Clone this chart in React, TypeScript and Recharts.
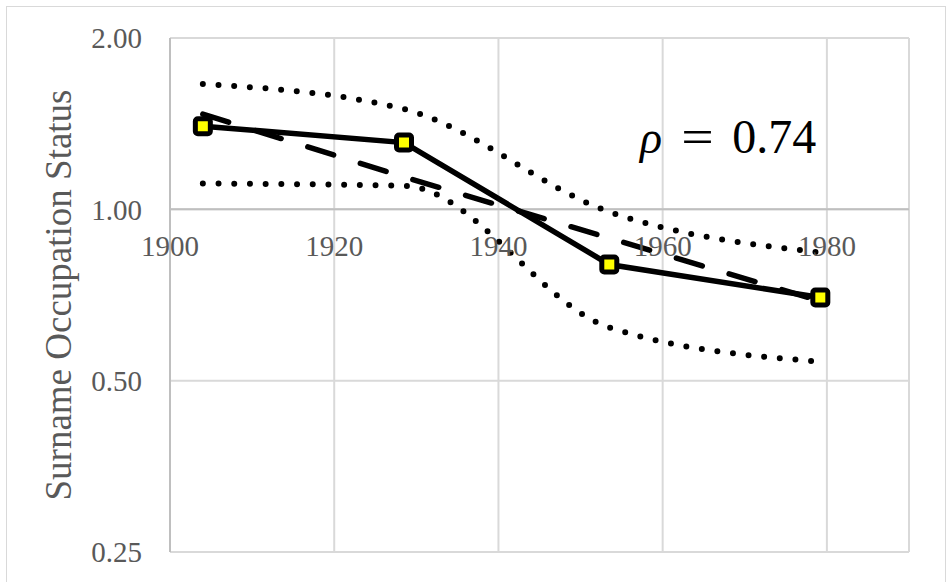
import React from 'react'
import {
  LineChart, Line, XAxis, YAxis, CartesianGrid,
  ReferenceLine, ReferenceDot,
} from 'recharts'

// generations (birth cohort years) and surname status relative to mean
const years = [1904, 1928.5, 1953.5, 1979.2]
const observed = [1.40, 1.31, 0.80, 0.70]
const predicted = [1.47, 1.14, 0.89, 0.69]
const upperBand = [1.66, 1.50, 0.99, 0.84]
const lowerBand = [1.11, 1.10, 0.62, 0.54]

const xTicks = [1900, 1920, 1940, 1960, 1980]
const yTicks = [0.25, 0.5, 1, 2]
const yTitle = 'Surname Occupation Status'
const rhoLabel = '0.74'

const data = years.map((year, i) => ({
  year,
  observed: observed[i],
  predicted: predicted[i],
  upper: upperBand[i],
  lower: lowerBand[i],
}))

const FONT = '"Liberation Serif", "DejaVu Serif", serif'
const GREY_TEXT = '#595959'

function SquareMarker(props: any) {
  const { cx, cy } = props
  if (cx == null || cy == null) return null
  return (
    <rect
      x={cx - 7.5} y={cy - 7.5} width={15} height={15} rx={2.5}
      fill="#ffff00" stroke="#000" strokeWidth={5}
    />
  )
}

function YTitle(props: any) {
  const vb = props.viewBox || {}
  const cy = (vb.y ?? 0) + (vb.height ?? 0) / 2
  const bx = (vb.x ?? 0) + 71
  return (
    <text
      x={bx} y={cy} transform={`rotate(-90, ${bx}, ${cy})`}
      textAnchor="middle" fontFamily={FONT} fontSize={37} fill={GREY_TEXT}
    >
      {yTitle}
    </text>
  )
}

export default function App() {
  return (
    <div style={{ position: 'absolute', left: 0, top: 0, width: 952, height: 582, overflow: 'hidden', background: '#fff' }}>
      {/* chart frame */}
      <div style={{ position: 'absolute', left: 6, top: 6, width: 938, height: 600, border: '1.5px solid #d9d9d9' }} />

      <LineChart
        width={952} height={582} data={data}
        margin={{ top: 38, right: 43, bottom: 30, left: 0 }}
        style={{ position: 'absolute', left: 0, top: 0 }}
      >
        <CartesianGrid stroke="#d9d9d9" strokeWidth={2} />
        <XAxis type="number" dataKey="year" domain={[1900, 1990]} ticks={xTicks} hide />
        <YAxis
          type="number" scale="log" domain={[0.25, 2]} ticks={yTicks} allowDataOverflow
          width={170}
          axisLine={{ stroke: '#bfbfbf', strokeWidth: 2 }}
          tickLine={false} tickSize={0} tickMargin={28}
          tick={{ fontFamily: FONT, fontSize: 29, fill: GREY_TEXT }}
          tickFormatter={(v: number) => v.toFixed(2)}
          label={{ content: YTitle }}
        />

        {/* horizontal axis crosses at 1.00 */}
        <ReferenceLine y={1} stroke="#bfbfbf" strokeWidth={2} />
        {xTicks.map(t => (
          <ReferenceDot
            key={t} x={t} y={1} r={0} fill="none" stroke="none"
            label={{ value: String(t), position: 'bottom', offset: 26, fontFamily: FONT, fontSize: 29, fill: GREY_TEXT }}
          />
        ))}

        <Line dataKey="upper" type="monotone" stroke="#000" strokeWidth={6}
          strokeDasharray="0 15.7" strokeLinecap="round" dot={false} isAnimationActive={false} />
        <Line dataKey="lower" type="monotone" stroke="#000" strokeWidth={6}
          strokeDasharray="0 15.7" strokeLinecap="round" dot={false} isAnimationActive={false} />
        <Line dataKey="predicted" type="linear" stroke="#000" strokeWidth={5.5}
          strokeDasharray="27 28" strokeLinecap="round" dot={false} isAnimationActive={false} />
        <Line dataKey="observed" type="linear" stroke="#000" strokeWidth={5.5}
          dot={<SquareMarker />} activeDot={false} isAnimationActive={false} />
      </LineChart>

      {/* correlation annotation */}
      <div style={{ position: 'absolute', left: 640, top: 107, fontFamily: FONT, fontSize: 48, color: '#000', whiteSpace: 'nowrap', lineHeight: '60px' }}>
        <span style={{ fontStyle: 'italic', fontSize: 46 }}>ρ</span>
        <span style={{ display: 'inline-block', margin: '0 21px 0 22px', transform: 'scaleX(1.2)' }}>=</span>
        <span>{rhoLabel}</span>
      </div>
    </div>
  )
}
